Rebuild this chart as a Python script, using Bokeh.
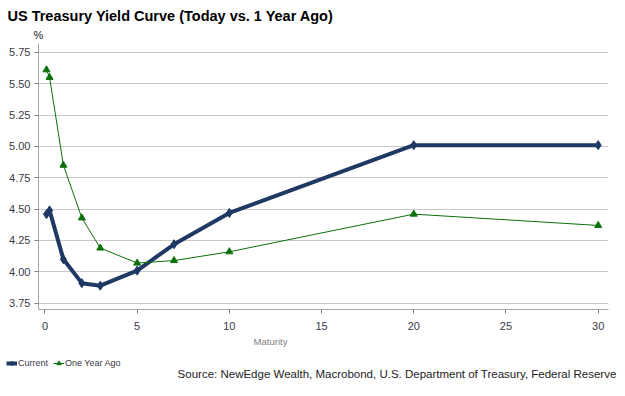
from bokeh.plotting import figure
from bokeh.layouts import column
from bokeh.models import Range1d, Title, Legend, LegendItem, FixedTicker, NumeralTickFormatter, Label
from bokeh.embed import file_html
from bokeh.resources import INLINE

maturity = [1/12, 0.25, 1, 2, 3, 5, 7, 10, 20, 30]
current = [4.46, 4.49, 4.10, 3.91, 3.89, 4.01, 4.22, 4.47, 5.01, 5.01]
year_ago = [5.61, 5.55, 4.85, 4.43, 4.19, 4.07, 4.09, 4.16, 4.46, 4.37]
x_ticks = [0, 5, 10, 15, 20, 25, 30]
y_ticks = [3.75, 4.00, 4.25, 4.50, 4.75, 5.00, 5.25, 5.50, 5.75]
series_names = ["Current", "One Year Ago"]

FONT = "Liberation Sans"
NAVY = "#1F3864"
GREEN = "#0A700A"
TXT = "#3A3A48"

# ---- main chart ----
p = figure(frame_width=570, frame_height=266, output_backend="svg", toolbar_location=None,
           x_range=Range1d(-0.35, 30.56), y_range=Range1d(3.70, 5.82),
           min_border_left=38, min_border_right=9, min_border_top=43, min_border_bottom=27)
p.outline_line_color = None
p.xgrid.grid_line_color = None
p.ygrid.grid_line_color = "#C8C8C8"
p.ygrid.grid_line_width = 1.2

for ax in (p.xaxis[0], p.yaxis[0]):
    ax.axis_line_color = "#A6A6A6"
    ax.major_tick_line_color = "#808080"
    ax.minor_tick_line_color = None
    ax.major_tick_in = 0
    ax.major_tick_out = 4
    ax.major_label_text_font = FONT
    ax.major_label_text_font_size = "11px"
    ax.major_label_text_color = TXT
p.yaxis.major_label_standoff = 4
p.xaxis.major_label_standoff = 8

p.xaxis.ticker = FixedTicker(ticks=x_ticks)
p.yaxis.ticker = FixedTicker(ticks=y_ticks)
p.yaxis.formatter = NumeralTickFormatter(format="0.00")

p.line(maturity, current, line_color=NAVY, line_width=4)
p.scatter(maturity, current, marker="diamond", size=9, fill_color=NAVY, line_color=NAVY)
p.line(maturity, year_ago, line_color=GREEN, line_width=1)
p.scatter(maturity, year_ago, marker="triangle", size=7, fill_color=GREEN, line_color=GREEN)

p.add_layout(Title(text="%", align="left", offset=-5, standoff=5,
                   text_font=FONT, text_font_size="11px", text_font_style="normal",
                   text_color="#222222"), "above")
p.add_layout(Title(text="US Treasury Yield Curve (Today vs. 1 Year Ago)", align="left",
                   offset=-31, standoff=2, text_font=FONT, text_font_size="14.5px",
                   text_font_style="bold", text_color="#000000"), "above")

# ---- footer: axis title, legend, source ----
q = figure(width=617, height=47, output_backend="svg", toolbar_location=None,
           x_range=Range1d(100, 101), y_range=Range1d(100, 101),
           min_border=0, x_axis_location=None, y_axis_location=None)
q.outline_line_color = None
q.grid.grid_line_color = None
for fig in (p, q):
    try:
        fig.frame_align = False
    except Exception:
        pass

ql1 = q.line(maturity, current, line_color=NAVY, line_width=4)
qm1 = q.scatter(maturity, current, marker="diamond", size=9, fill_color=NAVY, line_color=NAVY)
ql2 = q.line(maturity, year_ago, line_color=GREEN, line_width=1)
qm2 = q.scatter(maturity, year_ago, marker="triangle", size=7, fill_color=GREEN, line_color=GREEN)

legend = Legend(items=[LegendItem(label=series_names[0], renderers=[ql1, qm1]),
                       LegendItem(label=series_names[1], renderers=[ql2, qm2])],
                location=(6, 14), orientation="horizontal",
                padding=0, margin=0, spacing=5, glyph_width=11, glyph_height=12,
                label_standoff=1, label_text_font=FONT, label_text_font_size="9px",
                label_text_color=TXT, background_fill_alpha=0, border_line_alpha=0,
                label_height=12)
q.add_layout(legend, "center")

q.add_layout(Label(x=270, y=42, x_units="screen", y_units="screen", text="Maturity",
                   text_font=FONT, text_font_size="9.5px", text_color="#7F7F7F",
                   text_align="center", text_baseline="alphabetic"))
q.add_layout(Label(x=616, y=10, x_units="screen", y_units="screen",
                   text="Source: NewEdge Wealth, Macrobond, U.S. Department of Treasury, Federal Reserve",
                   text_font=FONT, text_font_size="11.5px", text_color="#222222",
                   text_align="right", text_baseline="alphabetic"))

layout = column(p, q, spacing=0)
open("out.html", "w").write(file_html(layout, INLINE))
